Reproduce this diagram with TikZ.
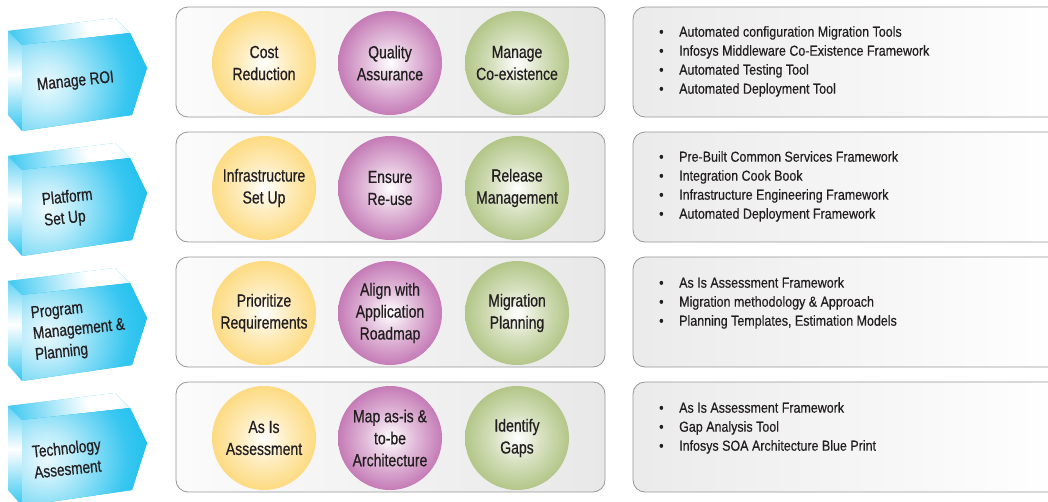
\documentclass[tikz,border=0pt]{standalone}
\usepackage{fontspec}
\setmainfont{Liberation Sans}
\newfontfamily\condA{Liberation Sans}[FakeStretch=0.8,FakeBold=0.6]
\newfontfamily\condB{Liberation Sans}[FakeStretch=0.86,FakeBold=0.4]
\definecolor{cyanB}{RGB}{0,183,236}
\colorlet{cyanT}{cyanB!72}
\colorlet{cyanS}{cyanB!80}
\definecolor{yelC}{RGB}{252,208,92}
\definecolor{purC}{RGB}{176,76,156}
\definecolor{grnC}{RGB}{156,181,100}
\definecolor{txt}{RGB}{35,31,32}
\definecolor{bord}{RGB}{150,150,152}
\pgfdeclareradialshading{yelball}{\pgfpoint{0bp}{0bp}}{color(0bp)=(white); color(12bp)=(yelC!42); color(28bp)=(yelC!85); color(40bp)=(yelC); color(50bp)=(yelC)}
\pgfdeclareradialshading{purball}{\pgfpoint{0bp}{0bp}}{color(0bp)=(white); color(12bp)=(purC!38); color(28bp)=(purC!82); color(40bp)=(purC); color(50bp)=(purC)}
\pgfdeclareradialshading{grnball}{\pgfpoint{0bp}{0bp}}{color(0bp)=(white); color(12bp)=(grnC!42); color(28bp)=(grnC!85); color(40bp)=(grnC); color(50bp)=(grnC)}
\pgfdeclareradialshading{cyglow}{\pgfpoint{0bp}{0bp}}{color(0bp)=(cyanB!8); color(6bp)=(cyanB!25); color(20bp)=(cyanB!78); color(34bp)=(cyanB); color(50bp)=(cyanB)}
\pgfdeclareradialshading{cytop}{\pgfpoint{0bp}{0bp}}{color(0bp)=(white); color(4bp)=(white); color(24bp)=(cyanT); color(50bp)=(cyanT)}
\newcommand\cyblock[1]{%
\begin{scope}[shift={(0,#1)}]
 \begin{scope}
  \clip (8,31) -- (22,45) -- (22,131) -- (8,115) -- cycle;
  \shade[top color=cyanS, bottom color=cyanS, middle color=white] (8,18) rectangle (22,131);
 \end{scope}
 \begin{scope}
  \clip (8,31) -- (115,18) -- (130,33) -- (22,45) -- cycle;
  \fill[cyanT] (0,10) rectangle (140,50);
  \shade[shading=cytop] (8,-70) rectangle (196,118);
 \end{scope}
 \begin{scope}
  \clip (22,45) -- (130,33) -- (147,68) -- (132,115) -- (22,131) -- cycle;
  \fill[cyanB] (0,20) rectangle (150,140);
  \shade[shading=cyglow] (-55,-17) rectangle (147,185);
 \end{scope}
\end{scope}}
\newcommand\li{\makebox[20pt][l]{\textbullet}}
\tikzset{
 ball/.style={circle, minimum size=104pt, inner sep=0pt, align=center, text=txt,
   font=\condA\fontsize{17.5}{22}\selectfont},
 yball/.style={ball, shading=yelball},
 pball/.style={ball, shading=purball},
 gball/.style={ball, shading=grnball},
 panel/.style={rounded corners=12pt, draw=bord, line width=0.8pt, left color=gray!3,
   right color=gray!18, minimum width=429pt, minimum height=110pt, inner sep=0pt},
 listtext/.style={anchor=north west, align=left, text=txt, inner sep=0pt,
   font=\condB\fontsize{14.5}{19}\selectfont},
 blocktext/.style={anchor=west, align=left, text=txt, inner sep=0pt, rotate=6,
   font=\condA\fontsize{17}{21}\selectfont}
}
\begin{document}
\begin{tikzpicture}[x=1pt,y=-1pt]
\useasboundingbox (0,0) rectangle (1048,501);
\fill[white] (0,0) rectangle (1048,501);
\clip (0,0) rectangle (1048,501);
% left blocks
\cyblock{0}
\cyblock{125}
\cyblock{250}
\cyblock{375}
\node[blocktext] (b1) at (37,86) {Manage ROI};
\node[blocktext] (b2) at (43,211) {Platform\\Set Up};
\node[blocktext] (b3) at (33,335) {Program\\Management \&\\Planning};
\node[blocktext] (b4) at (33,462) {Technology\\Assesment};
% middle and right panels
\foreach \r/\y in {1/62,2/187,3/312,4/437}{
  \node[panel] (p\r) at (390.5,\y) {};
  \shade[left color=gray!16, right color=white] (633,\y-55) [rounded corners=12pt] -- (633,\y+55) -- (1060,\y+55) -- (1060,\y-55) -- cycle;
  \draw[bord, line width=0.8pt, rounded corners=12pt] (1060,\y-55) -- (633,\y-55) -- (633,\y+55) -- (1060,\y+55);
}
% circles
\node[yball] (c11) at (264,63) {Cost\\Reduction};
\node[pball] (c12) at (390,63) {Quality\\Assurance};
\node[gball] (c13) at (517,63) {Manage\\Co-existence};
\node[yball] (c21) at (264,188) {Infrastructure\\Set Up};
\node[pball] (c22) at (390,188) {Ensure\\Re-use};
\node[gball] (c23) at (517,188) {Release\\Management};
\node[yball] (c31) at (264,313) {Prioritize\\Requirements};
\node[pball] (c32) at (390,313) {Align with\\Application\\Roadmap};
\node[gball] (c33) at (517,313) {Migration\\Planning};
\node[yball] (c41) at (264,438) {As Is\\Assessment};
\node[pball] (c42) at (390,438) {Map as-is \&\\to-be\\Architecture};
\node[gball] (c43) at (517,438) {Identify\\Gaps};
% lists
\node[listtext] (l1) at (659,26) {\li Automated configuration Migration Tools\\\li Infosys Middleware Co-Existence Framework\\\li Automated Testing Tool\\\li Automated Deployment Tool};
\node[listtext] (l2) at (659,151) {\li Pre-Built Common Services Framework\\\li Integration Cook Book\\\li Infrastructure Engineering Framework\\\li Automated Deployment Framework};
\node[listtext] (l3) at (659,277) {\li As Is Assessment Framework\\\li Migration methodology \& Approach\\\li Planning Templates, Estimation Models};
\node[listtext] (l4) at (659,402) {\li As Is Assessment Framework\\\li Gap Analysis Tool\\\li Infosys SOA Architecture Blue Print};
\end{tikzpicture}
\end{document}
